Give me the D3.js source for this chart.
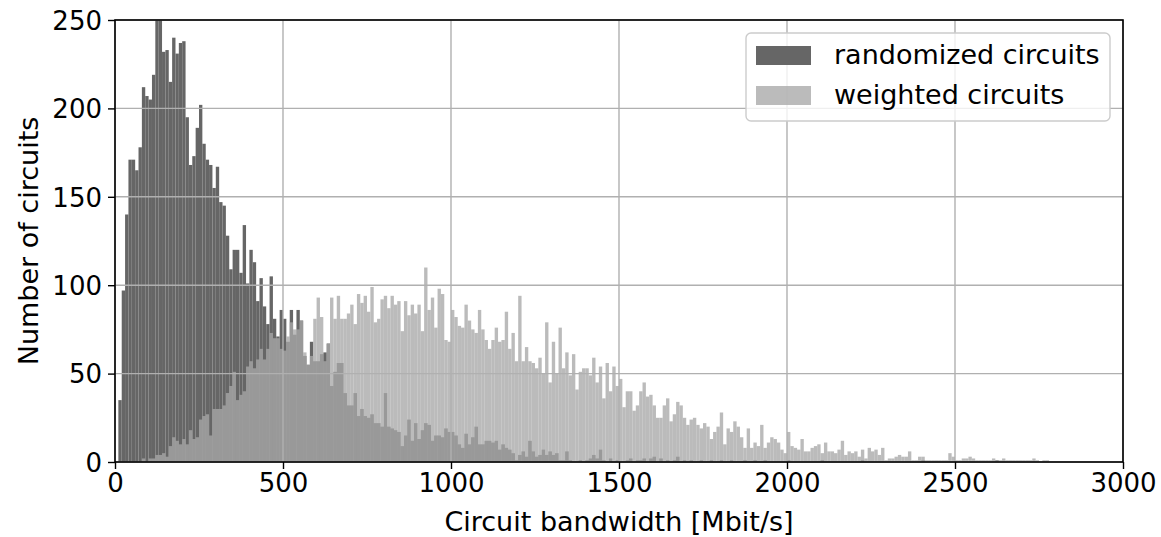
<!DOCTYPE html>
<html>
<head>
<meta charset="utf-8">
<script src="https://cdn.jsdelivr.net/npm/d3@7"></script>
<style>
  body { margin: 0; background: #fff; }
  svg text { font-family: "DejaVu Sans", sans-serif; fill: #000; }
</style>
</head>
<body>
<div id="js_plot"></div>
<script>
// Histogram counts per 10 Mbit/s bin, bin i covers [10*i, 10*i + 10)
const binWidth = 10;

const randomizedCounts = [
  0, 35, 97, 140, 171, 171, 165, 178, 212, 207,
  205, 219, 250, 250, 232, 233, 215, 240, 231, 237,
  238, 195, 168, 173, 189, 202, 180, 171, 168, 155,
  167, 147, 145, 128, 109, 120, 120, 107, 134, 101,
  120, 113, 91, 104, 88, 78, 105, 81, 71, 86,
  81, 68, 86, 72, 86, 80, 60, 55, 68, 57,
  57, 61, 62, 67, 43, 51, 56, 56, 39, 32,
  32, 39, 26, 30, 26, 25, 27, 22, 22, 20,
  39, 20, 19, 18, 17, 9, 15, 24, 12, 22,
  13, 18, 22, 21, 12, 15, 15, 14, 19, 17,
  17, 15, 10, 8, 16, 10, 14, 20, 10, 10,
  12, 12, 11, 12, 7, 10, 8, 7, 5, 1,
  4, 6, 3, 12, 6, 3, 4, 7, 4, 6,
  4, 5, 1, 1, 6, 1, 0, 0, 1, 0,
  1, 2, 4, 2, 7, 1, 0, 2, 0, 1,
  0, 0, 1, 2, 0, 1, 1, 2, 0, 2,
  3, 0, 2, 0, 1, 0, 1, 3, 0, 1,
  0, 1, 0, 0, 1, 0, 0, 1, 0, 0,
  1, 0, 0, 1, 0, 0, 0, 1, 0, 0,
  1, 0, 0, 1, 0, 0, 0, 0, 0, 0,
  1, 0, 0, 0, 0, 0, 0, 0, 0, 0,
  1, 0, 0, 0, 0, 0, 0, 0, 0, 0,
  0, 0, 1, 0, 0, 0, 0, 0, 0, 0,
  0, 0, 0, 0, 0, 0, 0, 0, 0, 0,
  1, 0, 0, 0, 0, 0, 0, 0, 0, 0,
  0, 0, 0, 0, 0, 0, 0, 0, 0, 0,
  0, 0, 1, 0, 0, 0, 0, 0, 0, 0
];

const weightedCounts = [
  0, 0, 0, 0, 0, 0, 0, 0, 2, 0,
  2, 2, 4, 4, 5, 3, 9, 14, 12, 10,
  13, 10, 18, 13, 14, 24, 26, 27, 15, 30,
  30, 30, 32, 39, 43, 51, 35, 38, 40, 54,
  57, 53, 58, 64, 58, 64, 73, 70, 70, 64,
  63, 71, 79, 75, 75, 80, 62, 55, 60, 81,
  93, 82, 57, 67, 93, 81, 94, 81, 81, 84,
  89, 78, 95, 90, 94, 85, 99, 79, 81, 92,
  94, 87, 94, 89, 91, 74, 91, 83, 89, 84,
  89, 74, 110, 86, 93, 76, 98, 95, 69, 68,
  86, 82, 77, 76, 89, 80, 75, 73, 86, 75,
  69, 64, 69, 76, 68, 69, 85, 64, 73, 57,
  94, 57, 65, 57, 56, 53, 59, 50, 79, 45,
  68, 50, 76, 53, 62, 49, 61, 41, 51, 53,
  53, 49, 59, 45, 54, 36, 56, 40, 54, 43,
  47, 31, 40, 40, 29, 32, 40, 45, 37, 38,
  32, 25, 25, 32, 36, 23, 27, 34, 32, 25,
  21, 24, 25, 21, 19, 22, 20, 13, 17, 20,
  28, 10, 19, 17, 23, 20, 14, 8, 19, 8,
  11, 9, 21, 8, 11, 14, 13, 11, 7, 5,
  17, 9, 8, 7, 13, 6, 6, 8, 9, 10,
  5, 11, 6, 6, 5, 7, 12, 4, 6, 5,
  6, 3, 7, 2, 8, 6, 7, 4, 8, 1,
  2, 2, 3, 4, 3, 3, 6, 1, 1, 3,
  3, 1, 1, 1, 1, 1, 1, 1, 5, 3,
  1, 1, 2, 2, 3, 2, 1, 1, 1, 1,
  1, 2, 1, 1, 2, 1, 1, 1, 1, 1,
  1, 1, 1, 2, 1, 0, 1, 1
];

const xTicks = [0, 500, 1000, 1500, 2000, 2500, 3000];
const yTicks = [0, 50, 100, 150, 200, 250];
const seriesNames = ["randomized circuits", "weighted circuits"];

// Layout
var
    width = 1161,
    height = 537,
    margin = {top: 20, right: 38, bottom: 75, left: 115},
    plot_left = margin.left,
    plot_right = width - margin.right,
    plot_top = margin.top,
    plot_bottom = height - margin.bottom;

const darkColor = "#666666";
const lightColor = "#a8a8a8";
const lightAlpha = 0.78;

var svg = d3.select("#js_plot").append("svg")
    .attr("width", width)
    .attr("height", height);

var x = d3.scaleLinear().domain([0, 3000]).range([plot_left, plot_right]);
var y = d3.scaleLinear().domain([0, 250]).range([plot_bottom, plot_top]);

svg.append("defs").append("clipPath").attr("id", "plotclip")
  .append("rect")
    .attr("x", plot_left).attr("y", plot_top)
    .attr("width", plot_right - plot_left)
    .attr("height", plot_bottom - plot_top);

const toBins = counts => counts.map((c, i) => ({x0: i * binWidth, x1: (i + 1) * binWidth, n: c}))
    .filter(d => d.n > 0);

var bars = svg.append("g").attr("clip-path", "url(#plotclip)");

bars.append("g").selectAll("rect")
    .data(toBins(randomizedCounts))
    .join("rect")
        .attr("x", d => x(d.x0))
        .attr("width", d => x(d.x1) - x(d.x0))
        .attr("y", d => y(Math.min(d.n, 260)))
        .attr("height", d => y(0) - y(Math.min(d.n, 260)))
        .style("fill", darkColor);

bars.append("g").selectAll("rect")
    .data(toBins(weightedCounts))
    .join("rect")
        .attr("x", d => x(d.x0))
        .attr("width", d => x(d.x1) - x(d.x0))
        .attr("y", d => y(d.n))
        .attr("height", d => y(0) - y(d.n))
        .style("fill", lightColor)
        .style("fill-opacity", lightAlpha);

// Grid (drawn on top of the bars)
var grid = svg.append("g");
grid.selectAll("line.gx")
    .data(xTicks)
    .join("line")
        .attr("class", "gx")
        .attr("x1", d => x(d)).attr("x2", d => x(d))
        .attr("y1", plot_top).attr("y2", plot_bottom)
        .style("stroke", "#b0b0b0").style("stroke-width", 1.4);
grid.selectAll("line.gy")
    .data(yTicks)
    .join("line")
        .attr("class", "gy")
        .attr("x1", plot_left).attr("x2", plot_right)
        .attr("y1", d => y(d)).attr("y2", d => y(d))
        .style("stroke", "#b0b0b0").style("stroke-width", 1.4);

// Axes
var xAxis = svg.append("g")
    .attr("transform", "translate(0," + plot_bottom + ")")
    .call(d3.axisBottom(x).tickValues(xTicks).tickSize(7).tickPadding(5).tickFormat(d3.format("d")));
var yAxis = svg.append("g")
    .attr("transform", "translate(" + plot_left + ",0)")
    .call(d3.axisLeft(y).tickValues(yTicks).tickSize(7).tickPadding(6).tickFormat(d3.format("d")));

[xAxis, yAxis].forEach(a => {
    a.select(".domain").remove();
    a.selectAll(".tick line").style("stroke", "#000").style("stroke-width", 1.4);
    a.selectAll(".tick text").style("font-size", "26px").style("font-family", "DejaVu Sans");
});
yAxis.selectAll(".tick text").attr("dy", "0.36em");

// Spines
svg.append("rect")
    .attr("x", plot_left).attr("y", plot_top)
    .attr("width", plot_right - plot_left)
    .attr("height", plot_bottom - plot_top)
    .style("fill", "none").style("stroke", "#000").style("stroke-width", 1.6);

// Axis labels
svg.append("text")
    .attr("x", (plot_left + plot_right) / 2)
    .attr("y", 531)
    .attr("text-anchor", "middle")
    .style("font-size", "27px")
    .text("Circuit bandwidth [Mbit/s]");

svg.append("text")
    .attr("transform", "translate(38," + ((plot_top + plot_bottom) / 2) + ") rotate(-90)")
    .attr("text-anchor", "middle")
    .style("font-size", "27px")
    .text("Number of circuits");

// Legend
var legend = svg.append("g");
legend.append("rect")
    .attr("x", 746).attr("y", 33)
    .attr("width", 364).attr("height", 88)
    .attr("rx", 5)
    .style("fill", "#fff").style("fill-opacity", 0.8)
    .style("stroke", "#cccccc").style("stroke-width", 1.4);

seriesNames.forEach((name, i) => {
    legend.append("rect")
        .attr("x", 756).attr("y", 46 + i * 40)
        .attr("width", 55).attr("height", 19)
        .style("fill", i === 0 ? darkColor : lightColor)
        .style("fill-opacity", i === 0 ? 1 : lightAlpha);
    legend.append("text")
        .attr("x", 834).attr("y", 64 + i * 40)
        .style("font-size", "27px")
        .text(name);
});
</script>
</body>
</html>
